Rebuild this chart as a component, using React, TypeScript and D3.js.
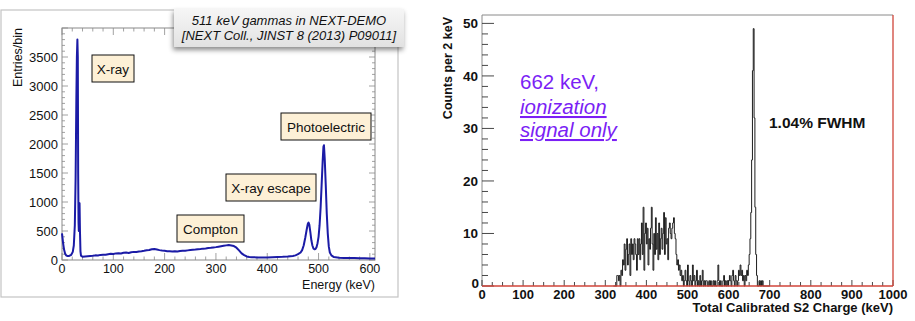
import React from 'react';
import * as d3 from 'd3';

// left panel: 511 keV gammas in NEXT-DEMO
const spectrumKeV = [
  0, 1, 2, 4, 6, 8, 10, 14, 18, 21, 23, 25, 26.5, 28, 29, 30, 30.8, 31.5, 32.2, 32.8, 33.5, 34.2, 35, 36, 37,
  40, 45, 50, 55, 60, 65, 70, 75, 80, 85, 90, 95, 100, 105, 110, 115, 120, 125, 130, 135, 140, 145, 150,
  155, 160, 165, 170, 175, 180, 185, 190, 195, 200, 205, 210, 215, 220, 225, 230, 235, 240, 245, 250,
  255, 260, 265, 270, 275, 280, 285, 290, 295, 300, 305, 310, 315, 320, 325, 330, 335, 340, 345, 350,
  355, 360, 365, 370, 380, 390, 400, 410, 420, 430, 440, 450, 455, 460, 465, 468, 471, 474, 477, 479,
  480.5, 482, 484, 486, 488, 490, 492, 494, 496, 498, 500, 502, 504, 506, 508, 509.5, 510.5, 512, 514,
  516, 518, 520, 522, 525, 530, 540, 550, 560, 570, 580, 590, 600, 610,
];
const spectrumCounts = [
  460, 380, 300, 180, 110, 80, 70, 70, 90, 140, 250, 600, 1400, 2800, 3500, 3800, 3500, 1500, 650, 500, 950, 980, 500, 150, 75,
  55, 62, 66, 70, 72, 80, 78, 88, 92, 90, 100, 108, 104, 114, 118, 112, 125, 128, 122, 135, 140, 137, 145,
  150, 158, 168, 172, 186, 190, 180, 170, 162, 158, 152, 150, 146, 152, 148, 156, 160, 158, 166, 172,
  176, 180, 186, 190, 196, 198, 206, 210, 216, 222, 230, 238, 245, 252, 258, 250, 240, 212, 165, 115,
  85, 62, 52, 48, 45, 44, 45, 47, 50, 54, 60, 70, 80, 100, 130, 170, 250, 380, 530, 620,
  645, 610, 480, 340, 250, 200, 185, 190, 220, 290, 400, 600, 900, 1300, 1700, 1950, 1980, 1750, 1300,
  800, 450, 230, 130, 80, 50, 40, 36, 34, 33, 30, 30, 28, 28,
];
const leftYTicks = [0, 500, 1000, 1500, 2000, 2500, 3000, 3500];
const leftXTicks = [0, 100, 200, 300, 400, 500, 600];

// right panel: 662 keV, ionization signal only (2 keV bins from 320 keV)
const histStartKeV = 320;
const histBinKeV = 2;
const histCounts = [
  0, 0, 0, 0, 2, 2, 1, 2, 0, 3,
  2, 5, 4, 8, 3, 7, 9, 4, 6, 8,
  2, 9, 6, 8, 5, 9, 8, 6, 3, 9,
  6, 9, 5, 8, 12, 6, 15, 3, 10, 12,
  8, 11, 4, 9, 7, 11, 15, 8, 3, 10,
  6, 13, 7, 10, 5, 12, 6, 9, 11, 7,
  10, 14, 6, 13, 8, 9, 5, 11, 12, 10,
  9, 11, 12, 13, 10, 9, 6, 4, 5, 3,
  4, 2, 3, 1, 2, 0, 1, 3, 1, 0,
  4, 1, 0, 2, 1, 0, 4, 1, 2, 0,
  1, 3, 0, 1, 0, 2, 0, 1, 3, 0,
  1, 0, 1, 1, 0, 0, 1, 0, 1, 0,
  0, 1, 0, 1, 0, 0, 1, 4, 1, 0,
  1, 0, 0, 1, 2, 0, 1, 0, 1, 0,
  1, 2, 1, 0, 2, 3, 1, 0, 2, 1,
  0, 1, 3, 2, 4, 2, 3, 1, 2, 0,
  2, 1, 3, 2, 4, 6, 9, 14, 24, 41,
  49, 32, 15, 6, 2, 0, 0, 1, 0, 1,
  0, 1, 0, 0, 0, 0, 0, 0, 0, 0,
];
const rightYTicks = [0, 10, 20, 30, 40, 50];
const rightXTicks = [0, 100, 200, 300, 400, 500, 600, 700, 800, 900, 1000];

const FONT = '"Liberation Sans", Arial, Helvetica, sans-serif';

const Note = ({ x, y, w, text }: { x: number; y: number; w: number; text: string }) => (
  <g>
    <rect x={x} y={y} width={w} height={27} fill="#fdf0d6" stroke="#111" strokeWidth={1} />
    <text x={x + w / 2} y={y + 18.5} textAnchor="middle" fontSize={13.5} fill="#111">{text}</text>
  </g>
);

const App = () => {
  // left scales
  const lx = d3.scaleLinear().domain([0, 610]).range([62, 375]);
  const ly = d3.scaleLinear().domain([0, 4000]).range([260, 28]);
  const spectrumLine = d3.line<number>()
    .x((_, i) => lx(spectrumKeV[i]))
    .y((d) => ly(d));

  const lMinorX = d3.range(0, 611, 20);
  const lMinorY = d3.range(0, 4001, 100);

  // right scales
  const rx = d3.scaleLinear().domain([0, 1000]).range([482, 893]);
  const ry = d3.scaleLinear().domain([0, 51.6]).range([286, 15]);
  const steps = histCounts.map((c, i) => [histStartKeV + i * histBinKeV, c] as [number, number]);
  steps.push([histStartKeV + histCounts.length * histBinKeV, 0]);
  const histLine = d3.line<[number, number]>()
    .x((d) => rx(d[0]))
    .y((d) => ry(d[1]))
    .curve(d3.curveStepAfter);

  const rMinorX = d3.range(0, 1001, 25);
  const rMinorY = d3.range(0, 51, 2);

  return (
    <svg width={915} height={321} style={{ position: 'absolute', left: 0, top: 0, background: '#fff' }} fontFamily={FONT}>
      <defs>
        <linearGradient id="titleGrad" x1="0" y1="0" x2="0" y2="1">
          <stop offset="0" stopColor="#f6f6f6" />
          <stop offset="1" stopColor="#e2e2e2" />
        </linearGradient>
        <filter id="shadow" x="-10%" y="-30%" width="120%" height="180%">
          <feDropShadow dx={-1} dy={3} stdDeviation={2.5} floodColor="#000" floodOpacity={0.45} />
        </filter>
      </defs>

      {/* ---------- left panel ---------- */}
      <rect x={1} y={10} width={397} height={287} fill="#fff" stroke="#c4c4c4" strokeWidth={1.2} />
      <rect x={lx(0)} y={ly(4000)} width={lx(610) - lx(0)} height={ly(0) - ly(4000)} fill="none" stroke="#8a8a8a" strokeWidth={1} />
      {lMinorY.map((v) => {
        const len = v % 500 === 0 ? 6 : 3;
        return (
          <g key={'ly' + v} stroke="#8a8a8a" strokeWidth={0.8}>
            <line x1={lx(0)} x2={lx(0) + len} y1={ly(v)} y2={ly(v)} />
            <line x1={lx(610)} x2={lx(610) - len} y1={ly(v)} y2={ly(v)} />
          </g>
        );
      })}
      {lMinorX.map((v) => {
        const len = v % 100 === 0 ? 7 : 3.5;
        return (
          <g key={'lx' + v} stroke="#8a8a8a" strokeWidth={0.8}>
            <line x1={lx(v)} x2={lx(v)} y1={ly(0)} y2={ly(0) - len} />
            <line x1={lx(v)} x2={lx(v)} y1={ly(4000)} y2={ly(4000) + len} />
          </g>
        );
      })}
      {leftYTicks.map((v) => (
        <text key={'lyt' + v} x={58} y={ly(v) + 4.5} textAnchor="end" fontSize={13} fill="#111">{v}</text>
      ))}
      {leftXTicks.map((v) => (
        <text key={'lxt' + v} x={lx(v)} y={273} textAnchor="middle" fontSize={12.5} fill="#111">{v}</text>
      ))}
      <text transform={`translate(22,${ly(4000)}) rotate(-90)`} textAnchor="end" fontSize={12.5} fill="#111">Entries/bin</text>
      <text x={375} y={289} textAnchor="end" fontSize={12.5} fill="#111">Energy (keV)</text>

      <path d={spectrumLine(spectrumCounts) || ''} fill="none" stroke="#1b1ba6" strokeWidth={2} strokeLinejoin="round" />

      <Note x={92} y={55} w={42} text="X-ray" />
      <Note x={281} y={113} w={90} text="Photoelectric" />
      <Note x={226} y={174} w={90} text="X-ray escape" />
      <Note x={177} y={215} w={67} text="Compton" />

      <g filter="url(#shadow)">
        <rect x={174} y={9} width={230} height={38} fill="url(#titleGrad)" />
      </g>
      <text x={289} y={25} textAnchor="middle" fontSize={13} fontStyle="italic" fill="#111">511 keV gammas in NEXT-DEMO</text>
      <text x={289} y={40} textAnchor="middle" fontSize={13} fontStyle="italic" fill="#111">[NEXT Coll., JINST 8 (2013) P09011]</text>

      {/* ---------- right panel ---------- */}
      <line x1={rx(0)} x2={rx(1000)} y1={ry(51.6)} y2={ry(51.6)} stroke="#8a8a8a" strokeWidth={1} />
      <line x1={rx(0)} x2={rx(0)} y1={ry(51.6)} y2={ry(0)} stroke="#8a8a8a" strokeWidth={1} />
      {rMinorY.map((v) => (
        <line key={'ry' + v} x1={rx(0)} x2={rx(0) + (v % 10 === 0 ? 12 : 6)} y1={ry(v)} y2={ry(v)} stroke="#333" strokeWidth={0.9} />
      ))}
      {rMinorX.map((v) => (
        <line key={'rx' + v} x1={rx(v)} x2={rx(v)} y1={ry(0)} y2={ry(0) - (v % 100 === 0 ? 6 : 4)} stroke="#333" strokeWidth={0.9} />
      ))}
      <path d={histLine(steps) || ''} fill="none" stroke="#1e1e1e" strokeWidth={1} />
      <line x1={rx(0)} x2={rx(1000)} y1={ry(0)} y2={ry(0)} stroke="#d0453a" strokeWidth={1.3} />
      <line x1={rx(1000)} x2={rx(1000)} y1={ry(51.6)} y2={ry(0)} stroke="#d0453a" strokeWidth={1.3} />

      {rightYTicks.map((v) => (
        <text key={'ryt' + v} x={v === 0 ? 479 : 478} y={ry(v) + (v === 0 ? 2 : 5)} textAnchor="end" fontSize={13.5} fontWeight="bold" fill="#111">{v}</text>
      ))}
      {rightXTicks.map((v) => (
        <text key={'rxt' + v} x={rx(v)} y={298.5} textAnchor="middle" fontSize={13} fontWeight="bold" fill="#111">{v}</text>
      ))}
      <text transform={`translate(452,${ry(51.6) + 2}) rotate(-90)`} textAnchor="end" fontSize={12.5} fontWeight="bold" fill="#111">Counts per 2 keV</text>
      <text x={893} y={312} textAnchor="end" fontSize={13} fontWeight="bold" fill="#111">Total Calibrated S2 Charge (keV)</text>

      <text x={520} y={89} fontSize={20.5} fill="#7b1ff5">662 keV,</text>
      <text x={520} y={114} fontSize={20.5} fontStyle="italic" textDecoration="underline" fill="#7b1ff5">ionization</text>
      <text x={520} y={137} fontSize={20.5} fontStyle="italic" textDecoration="underline" fill="#7b1ff5">signal only</text>
      <text x={769} y={128} fontSize={15.5} fontWeight="bold" fill="#111">1.04% FWHM</text>
    </svg>
  );
};

export default App;
